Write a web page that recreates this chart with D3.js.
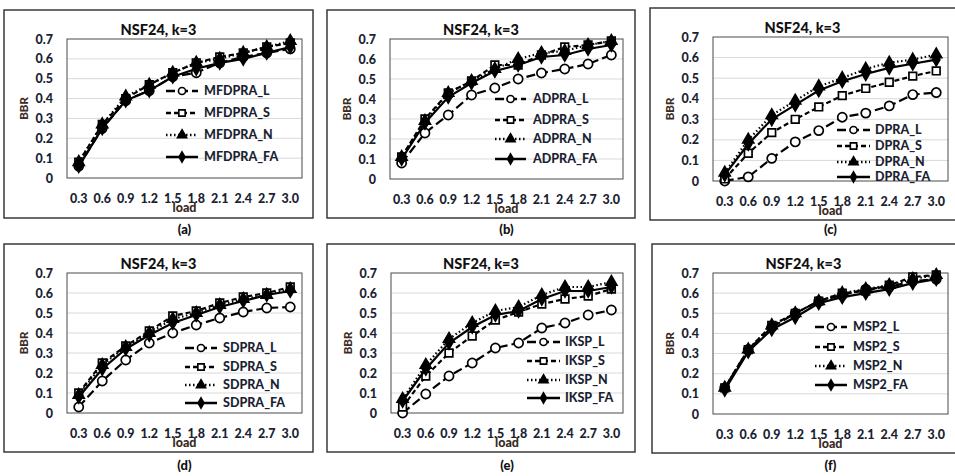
<!DOCTYPE html>
<html>
<head>
<meta charset="utf-8">
<script src="https://cdn.jsdelivr.net/npm/d3@7/dist/d3.min.js"></script>
<style>
  body { margin: 0; background: #fff; }
  svg { display: block; }
</style>
</head>
<body>
<svg id="fig" width="955" height="476"></svg>
<script>
// ---- data ----
const loads = ["0.3", "0.6", "0.9", "1.2", "1.5", "1.8", "2.1", "2.4", "2.7", "3.0"];
const yTicks = [0, 0.1, 0.2, 0.3, 0.4, 0.5, 0.6, 0.7];
const suffixes = ["_L", "_S", "_N", "_FA"];
const algNames = ["MFDPRA", "ADPRA", "DPRA", "SDPRA", "IKSP", "MSP2"];
const captions = ["(a)", "(b)", "(c)", "(d)", "(e)", "(f)"];
const chartTitle = "NSF24, k=3";

// rows: _L, _S, _N, _FA
const mfdpra = [
  [0.06, 0.25, 0.39, 0.44, 0.51, 0.53, 0.58, 0.61, 0.63, 0.65],
  [0.08, 0.27, 0.40, 0.47, 0.53, 0.58, 0.61, 0.63, 0.66, 0.68],
  [0.08, 0.27, 0.41, 0.47, 0.53, 0.58, 0.60, 0.63, 0.66, 0.69],
  [0.06, 0.25, 0.39, 0.44, 0.51, 0.55, 0.58, 0.60, 0.63, 0.66]
];
const adpra = [
  [0.08, 0.23, 0.32, 0.42, 0.455, 0.50, 0.53, 0.55, 0.575, 0.62],
  [0.11, 0.30, 0.43, 0.49, 0.57, 0.57, 0.62, 0.66, 0.67, 0.69],
  [0.11, 0.29, 0.43, 0.49, 0.55, 0.60, 0.63, 0.64, 0.67, 0.69],
  [0.10, 0.28, 0.41, 0.48, 0.54, 0.57, 0.61, 0.62, 0.65, 0.67]
];
const dpra = [
  [0.00, 0.02, 0.11, 0.19, 0.245, 0.31, 0.33, 0.365, 0.42, 0.43],
  [0.01, 0.135, 0.235, 0.30, 0.36, 0.415, 0.45, 0.48, 0.51, 0.535],
  [0.04, 0.20, 0.32, 0.39, 0.46, 0.50, 0.545, 0.575, 0.59, 0.615],
  [0.03, 0.18, 0.30, 0.37, 0.44, 0.485, 0.52, 0.55, 0.57, 0.59]
];
const sdpra = [
  [0.03, 0.16, 0.265, 0.35, 0.40, 0.44, 0.475, 0.505, 0.525, 0.53],
  [0.10, 0.25, 0.335, 0.41, 0.485, 0.51, 0.55, 0.58, 0.60, 0.63],
  [0.09, 0.24, 0.33, 0.40, 0.47, 0.50, 0.54, 0.57, 0.59, 0.62],
  [0.08, 0.22, 0.32, 0.39, 0.45, 0.49, 0.53, 0.56, 0.59, 0.61]
];
const iksp = [
  [0.00, 0.095, 0.185, 0.25, 0.325, 0.35, 0.425, 0.45, 0.49, 0.515],
  [0.03, 0.185, 0.30, 0.385, 0.465, 0.505, 0.545, 0.57, 0.585, 0.62],
  [0.07, 0.24, 0.37, 0.45, 0.51, 0.53, 0.59, 0.63, 0.63, 0.655],
  [0.06, 0.22, 0.35, 0.43, 0.49, 0.51, 0.57, 0.61, 0.61, 0.63]
];
const msp2 = [
  [0.13, 0.32, 0.43, 0.50, 0.56, 0.59, 0.62, 0.63, 0.66, 0.67],
  [0.13, 0.32, 0.44, 0.50, 0.56, 0.60, 0.61, 0.64, 0.68, 0.69],
  [0.13, 0.32, 0.44, 0.50, 0.56, 0.60, 0.62, 0.64, 0.67, 0.69],
  [0.12, 0.31, 0.42, 0.48, 0.55, 0.58, 0.60, 0.62, 0.65, 0.67]
];
const panelData = [mfdpra, adpra, dpra, sdpra, iksp, msp2];

// ---- layout (pixels) ----
const layout = [
  { box: [4, 10, 313, 218],   plot: [67, 39, 302, 178],   leg: [166, 198, 204, [91, 113, 135, 157]] },
  { box: [327, 10, 635, 218], plot: [390, 39, 623, 179],  leg: [495, 526, 533, [99, 120, 139, 159]] },
  { box: [650, 8, 962, 220],  plot: [713, 37, 948, 181],  leg: [837, 870, 875, [130, 146, 162, 177]] },
  { box: [4, 244, 313, 452],  plot: [67, 273, 302, 413],  leg: [185, 217, 223, [348, 367, 385, 403]] },
  { box: [327, 244, 635, 452], plot: [391, 273, 623, 413], leg: [527, 560, 565, [342, 361, 380, 398]] },
  { box: [652, 244, 962, 453], plot: [713, 273, 948, 414], leg: [815, 847, 853, [327, 347, 366, 385]] }
];

const styles = [
  { dash: "9,4", sym: d3.symbolCircle,   size: 66, legSize: 40, fill: "#fff" },
  { dash: "5,3", sym: d3.symbolSquare,   size: 58, legSize: 40, fill: "#fff" },
  { dash: "1.5,2.5", sym: d3.symbolTriangle, size: 52, legSize: 36, fill: "#000" },
  { dash: null,  sym: d3.symbolDiamond,  size: 44, legSize: 30, fill: "#000" }
];

const font = "Lato, 'Open Sans', sans-serif";
const weight = 900;
const svg = d3.select("#fig");

layout.forEach((L, p) => {
  const [bx0, by0, bx1, by1] = L.box;
  const [px0, py0, px1, py1] = L.plot;
  const g = svg.append("g");

  g.append("rect")
    .attr("x", bx0).attr("y", by0)
    .attr("width", bx1 - bx0).attr("height", by1 - by0)
    .attr("fill", "#fff").attr("stroke", "#3a3a3a").attr("stroke-width", 1.5);

  const x = d3.scaleBand().domain(loads).range([px0, px1]);
  const y = d3.scaleLinear().domain([0, 0.7]).range([py1, py0]);

  // gridlines
  g.append("g").selectAll("line").data(yTicks.slice(1, -1)).join("line")
    .attr("x1", px0).attr("x2", px1)
    .attr("y1", d => y(d)).attr("y2", d => y(d))
    .attr("stroke", "#d9d9d9").attr("stroke-width", 1);

  g.append("rect")
    .attr("x", px0).attr("y", py0)
    .attr("width", px1 - px0).attr("height", py1 - py0)
    .attr("fill", "none").attr("stroke", "#4a4a4a").attr("stroke-width", 1);

  // y axis labels
  const yAxis = d3.axisLeft(y).tickValues(yTicks)
    .tickFormat(d => d === 0 ? "0" : d3.format(".1f")(d))
    .tickSize(0).tickPadding(14);
  const ya = g.append("g").attr("transform", `translate(${px0},0)`).call(yAxis);
  ya.select(".domain").remove();
  ya.selectAll("text")
    .attr("font-family", font).attr("font-weight", weight).attr("font-size", 12.5)
    .attr("fill", "#1c1f33");

  // x axis labels
  const xAxis = d3.axisBottom(x).tickSize(0).tickPadding(0);
  const xa = g.append("g").attr("transform", `translate(0,${py1})`).call(xAxis);
  xa.select(".domain").remove();
  xa.selectAll("text")
    .attr("dy", null).attr("y", 25)
    .attr("font-family", font).attr("font-weight", weight).attr("font-size", 12.5)
    .attr("fill", "#1c1f33");

  // axis titles
  g.append("text")
    .attr("transform", `translate(${px0 - 39},${(py0 + py1) / 2}) rotate(-90)`)
    .attr("text-anchor", "middle")
    .attr("font-family", font).attr("font-weight", weight).attr("font-size", 11.5)
    .attr("fill", "#3b2a1e").text("BBR");
  g.append("text")
    .attr("x", (px0 + px1) / 2).attr("y", py1 + 34)
    .attr("text-anchor", "middle")
    .attr("font-family", font).attr("font-weight", weight).attr("font-size", 12.5)
    .attr("fill", "#3b2a1e").text("load");

  // chart title
  g.append("text")
    .attr("x", (bx0 + Math.min(bx1, 955)) / 2).attr("y", py0 - 4)
    .attr("text-anchor", "middle")
    .attr("font-family", font).attr("font-weight", weight).attr("font-size", 14.5)
    .attr("fill", "#111").text(chartTitle);

  // caption
  g.append("text")
    .attr("x", (px0 + px1) / 2).attr("y", (p < 3 ? 234 : 470))
    .attr("text-anchor", "middle")
    .attr("font-family", font).attr("font-weight", weight).attr("font-size", 13)
    .attr("fill", "#111").text(captions[p]);

  // series
  const cx = i => x(loads[i]) + x.bandwidth() / 2;
  const line = d3.line().x((d, i) => cx(i)).y(d => y(d));
  panelData[p].forEach((vals, s) => {
    const st = styles[s];
    g.append("path").datum(vals)
      .attr("d", line)
      .attr("fill", "none").attr("stroke", "#000").attr("stroke-width", 2.2)
      .attr("stroke-dasharray", st.dash);
    g.append("g").selectAll("path").data(vals).join("path")
      .attr("transform", (d, i) => `translate(${cx(i)},${y(d)})`)
      .attr("d", d3.symbol().type(st.sym).size(st.size))
      .attr("fill", st.fill).attr("stroke", "#000").attr("stroke-width", 1.7);
  });

  // legend
  const [lx0, lx1, tx, rows] = L.leg;
  suffixes.forEach((suf, s) => {
    const st = styles[s];
    const ly = rows[s];
    g.append("line")
      .attr("x1", lx0).attr("x2", lx1).attr("y1", ly).attr("y2", ly)
      .attr("stroke", "#000").attr("stroke-width", 2.5)
      .attr("stroke-dasharray", st.dash);
    g.append("path")
      .attr("transform", `translate(${(lx0 + lx1) / 2},${ly})`)
      .attr("d", d3.symbol().type(st.sym).size(st.legSize))
      .attr("fill", st.fill).attr("stroke", "#000").attr("stroke-width", 1.6);
    g.append("text")
      .attr("x", tx).attr("y", ly).attr("dy", "0.35em")
      .attr("font-family", font).attr("font-weight", weight).attr("font-size", 12.5)
      .attr("fill", "#1c1f33").text(algNames[p] + suf);
  });
});
</script>
</body>
</html>
